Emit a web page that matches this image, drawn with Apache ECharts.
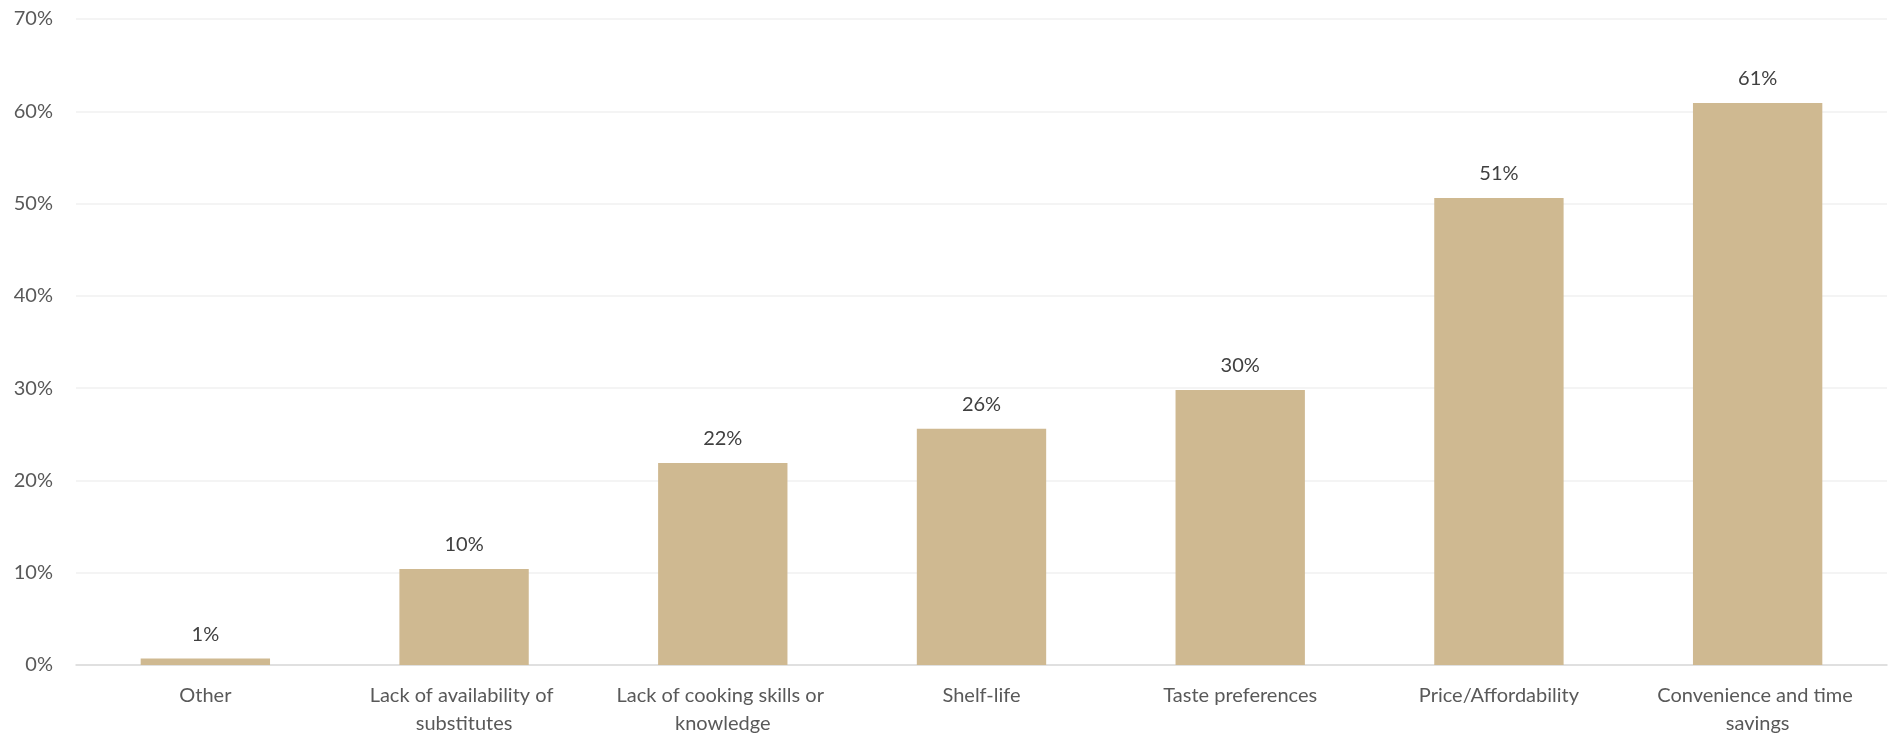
<!DOCTYPE html>
<html>
<head>
<meta charset="utf-8">
<script src="https://cdn.jsdelivr.net/npm/echarts@6/dist/echarts.min.js"></script>
<style>
html,body{margin:0;padding:0;background:#fff;}
#chart{width:1890px;height:738px;}
</style>
</head>
<body>
<div id="chart"></div>
<script>
const categories = ["Other", "Lack of availability of substitutes", "Lack of cooking skills or knowledge", "Shelf-life", "Taste preferences", "Price/Affordability", "Convenience and time savings"];
const values = [0.7, 10.4, 21.9, 25.6, 29.8, 50.6, 60.9];
const yTicks = [0, 10, 20, 30, 40, 50, 60, 70];

const chart = echarts.init(document.getElementById('chart'), null, {renderer: 'canvas'});
chart.setOption({
  animation: false,
  textStyle: {fontFamily: 'Lato'},
  grid: {left: 76, right: 3, top: 19, bottom: 72, containLabel: false},
  xAxis: {
    type: 'category',
    data: categories,
    axisTick: {show: false},
    axisLine: {lineStyle: {color: '#D9D9D9', width: 1.5}},
    axisLabel: {
      color: '#595959', fontSize: 20, fontFamily: 'Lato', margin: 17,
      lineHeight: 28, interval: 0, width: 228, overflow: 'break'
    }
  },
  yAxis: {
    type: 'value',
    min: yTicks[0], max: yTicks[yTicks.length - 1], interval: 10,
    axisLine: {show: false},
    axisTick: {show: false},
    splitLine: {lineStyle: {color: '#F0F0F0', width: 1.5}},
    axisLabel: {color: '#595959', fontSize: 20, fontFamily: 'Lato', margin: 23, formatter: v => v + '%'}
  },
  series: [{
    type: 'bar',
    data: values,
    barWidth: '50%',
    itemStyle: {color: '#CFB991'},
    label: {
      show: true, position: 'top', distance: 14,
      color: '#404040', fontSize: 20, fontFamily: 'Lato',
      formatter: p => Math.round(p.value) + '%'
    }
  }]
});
</script>
</body>
</html>
